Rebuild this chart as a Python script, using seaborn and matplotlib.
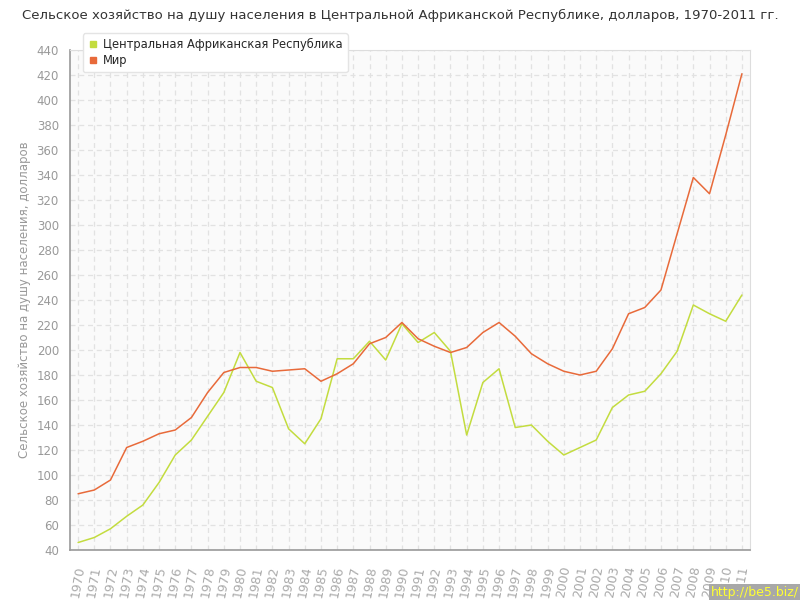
import matplotlib
matplotlib.use("Agg")
import matplotlib.pyplot as plt
import seaborn as sns
import pandas as pd

years = list(range(1970, 2012))

car = [46, 50, 57, 67, 76, 94, 116, 128, 147, 166,
       198, 175, 170, 137, 125, 145, 193, 193, 207, 192,
       221, 206, 214, 199, 132, 174, 185, 138, 140, 127,
       116, 122, 128, 154, 164, 167, 181, 199, 236, 229,
       223, 244]

world = [85, 88, 96, 122, 127, 133, 136, 146, 166, 182,
         186, 186, 183, 184, 185, 175, 181, 189, 205, 210,
         222, 209, 203, 198, 202, 214, 222, 211, 197, 189,
         183, 180, 183, 201, 229, 234, 248, 293, 338, 325,
         372, 421]

series_names = ["Центральная Африканская Республика", "Мир"]
colors = ["#c3dc3f", "#e86a3a"]

df = pd.DataFrame({
    "year": years * 2,
    "value": car + world,
    "series": [series_names[0]] * len(years) + [series_names[1]] * len(years),
})

sns.set_style("white")
plt.rcParams["font.family"] = ["DejaVu Sans"]

fig = plt.figure(figsize=(8, 6), dpi=100)
ax = fig.add_axes([0.0875, 0.0833, 0.85, 0.8334])
ax.set_facecolor("#fafafa")

sns.lineplot(data=df, x="year", y="value", hue="series", palette=colors,
             linewidth=1.1, ax=ax, legend=False)

ax.set_xlim(1969.5, 2011.5)
ax.set_ylim(40, 440)
ax.set_xticks(years)
ax.set_xticklabels([str(y) for y in years], rotation=80, color="#aaaaaa", fontsize=9)
ax.set_yticks(range(40, 441, 20))
ax.set_yticklabels([str(v) for v in range(40, 441, 20)], color="#999999", fontsize=8.5)
ax.tick_params(axis="both", direction="out", length=6, color="#999999", width=1)
ax.tick_params(axis="x", pad=5)
ax.tick_params(axis="y", pad=2)

ax.grid(True, linestyle=(0, (4, 3)), color="#e2e2e2", linewidth=0.9)
ax.set_axisbelow(True)

for side in ["left", "bottom"]:
    ax.spines[side].set_color("#999999")
    ax.spines[side].set_linewidth(1.2)
for side in ["top", "right"]:
    ax.spines[side].set_visible(True)
    ax.spines[side].set_color("#dddddd")

ax.set_xlabel("")
ax.set_ylabel("Сельское хозяйство на душу населения, долларов",
              color="#999999", fontsize=8.5)
ax.yaxis.set_label_coords(-0.057, 0.5)

fig.suptitle("Сельское хозяйство на душу населения в Центральной Африканской Республике, долларов, 1970-2011 гг.",
             x=0.5, y=0.985, fontsize=9.5, color="#333333")

handles = [plt.Line2D([], [], marker="s", linestyle="none", color=c,
                      markersize=5) for c in colors]
leg = ax.legend(handles, series_names, loc="upper left",
                bbox_to_anchor=(0.01, 1.045), frameon=True, fancybox=True,
                fontsize=8.3, handletextpad=0.4, borderpad=0.4,
                labelspacing=0.3, handlelength=1.0, shadow=False)
leg.get_frame().set_edgecolor("#e4e4e4")
leg.get_frame().set_facecolor("white")
leg.get_frame().set_alpha(1)

fig.text(0.999, 0.001, "http://be5.biz/", ha="right", va="bottom",
         color="#ffff33", fontsize=9,
         bbox=dict(boxstyle="square,pad=0.2", facecolor="#a8a8a8", edgecolor="none"))

fig.savefig("out.png", dpi=100)
